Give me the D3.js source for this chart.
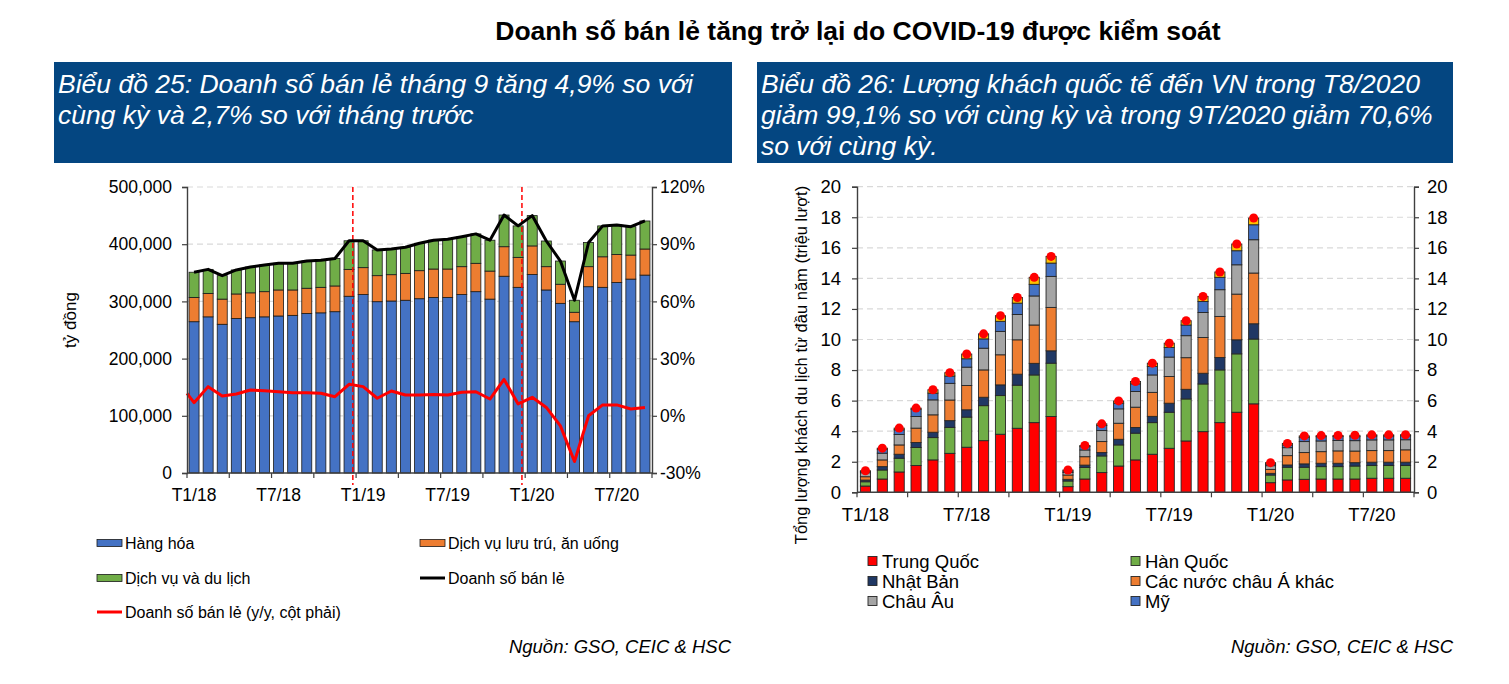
<!DOCTYPE html>
<html><head><meta charset="utf-8">
<script src="https://cdn.jsdelivr.net/npm/d3@7"></script>
<style>
body{margin:0;background:#fff}
svg{display:block}
text{font-family:"Liberation Sans",Arial,Helvetica,sans-serif}
</style>
</head><body>
<svg id="c" width="1509" height="684"></svg>
<script>
// ---------- Chart 25 data (tỷ đồng) ----------
const months = ["T1/18","T2/18","T3/18","T4/18","T5/18","T6/18","T7/18","T8/18","T9/18","T10/18","T11/18","T12/18",
  "T1/19","T2/19","T3/19","T4/19","T5/19","T6/19","T7/19","T8/19","T9/19","T10/19","T11/19","T12/19",
  "T1/20","T2/20","T3/20","T4/20","T5/20","T6/20","T7/20","T8/20","T9/20"];
const hangHoa = [264500,273000,260000,270000,271500,273000,274500,275600,279000,280000,282000,309000,
  312000,299500,300700,302000,304700,307000,307000,312000,317000,304000,344000,324600,
  347000,320000,296600,264500,325700,324600,333000,339000,346000];
const luuTru = [42500,41000,44000,43000,43500,44000,45500,44400,44000,44600,45000,47000,
  47000,45500,46000,47000,49000,49600,49600,48700,49600,49000,51600,52400,
  50000,40700,33400,16500,35000,53400,49000,42000,45600];
const duLich = [44000,42000,41000,42000,45000,46600,46600,46600,47600,47400,48000,50000,
  47000,45000,44900,45600,47900,50400,51900,52300,51400,54000,55400,55000,
  53000,44900,40600,21000,42300,54000,51600,49600,49000];
const yoyPrev = 11.8;
const yoy = [6.9,15.3,10.4,11.4,13.5,13.2,12.6,12.1,12.1,11.8,10.0,16.5,
  15.3,9.2,13.0,10.9,10.9,11.2,10.9,12.3,12.6,8.8,19.1,6.2,
  9.7,4.4,-5.3,-24,0,5.7,5.7,3.6,4.4];
const yTicksL = [0,100000,200000,300000,400000,500000];
const yTicksR = [-30,0,30,60,90,120];
const xLabelsShown = ["T1/18","T7/18","T1/19","T7/19","T1/20","T7/20"];
const dashedAt = ["T12/18","T12/19"];
const legend1 = [
  {name:"Hàng hóa", type:"rect", color:"#4472C4"},
  {name:"Dịch vụ lưu trú, ăn uống", type:"rect", color:"#ED7D31"},
  {name:"Dịch vụ và du lịch", type:"rect", color:"#70AD47"},
  {name:"Doanh số bán lẻ", type:"line", color:"#000000"},
  {name:"Doanh số bán lẻ (y/y, cột phải)", type:"line", color:"#FF0000"}
];

// ---------- Chart 26 data (triệu lượt, luỹ kế) ----------
const trungQuoc = [0.41,0.87,1.33,1.75,2.12,2.55,2.95,3.38,3.80,4.19,4.56,4.96,
  0.37,0.87,1.29,1.72,2.12,2.49,2.88,3.36,3.97,4.56,5.24,5.79,
  0.63,0.81,0.85,0.87,0.87,0.87,0.92,0.92,0.92];
const hanQuoc = [0.28,0.59,0.90,1.18,1.46,1.70,1.97,2.29,2.53,2.82,3.12,3.49,
  0.37,0.76,1.09,1.38,1.75,2.07,2.36,2.75,3.12,3.45,3.82,4.24,
  0.50,0.83,0.79,0.81,0.81,0.85,0.83,0.83,0.83];
const nhatBan = [0.11,0.22,0.26,0.33,0.35,0.44,0.48,0.55,0.70,0.72,0.76,0.81,
  0.11,0.15,0.22,0.37,0.37,0.41,0.59,0.63,0.70,0.81,0.92,1.00,
  0.11,0.15,0.22,0.22,0.22,0.22,0.22,0.22,0.22];
const chauAKhac = [0.22,0.44,0.61,0.94,1.14,1.35,1.59,1.79,1.97,2.25,2.51,2.84,
  0.28,0.55,0.72,1.05,1.33,1.57,1.75,2.07,2.34,2.69,2.99,3.32,
  0.26,0.61,0.74,0.76,0.81,0.76,0.76,0.76,0.81];
const chauAu = [0.26,0.44,0.68,0.76,0.98,1.09,1.20,1.42,1.53,1.66,1.90,2.03,
  0.17,0.44,0.72,0.94,1.03,1.14,1.27,1.44,1.64,1.75,1.92,2.18,
  0.24,0.52,0.72,0.70,0.68,0.68,0.70,0.70,0.66];
const my = [0.09,0.26,0.31,0.48,0.44,0.48,0.55,0.61,0.66,0.74,0.76,0.87,
  0.09,0.22,0.33,0.37,0.50,0.55,0.63,0.70,0.72,0.81,0.92,0.98,
  0.11,0.17,0.28,0.28,0.26,0.26,0.26,0.26,0.26];
const khac = [0.04,0.07,0.11,0.07,0.22,0.22,0.31,0.33,0.37,0.37,0.46,0.44,
  0.07,0.07,0.11,0.15,0.15,0.22,0.28,0.28,0.33,0.35,0.44,0.44,
  0.09,0.11,0.09,0.07,0.07,0.09,0.07,0.07,0.07];
const yTicks2 = [0,2,4,6,8,10,12,14,16,18,20];
const legend2 = [
  {name:"Trung Quốc", color:"#FF0000"},
  {name:"Hàn Quốc", color:"#70AD47"},
  {name:"Nhật Bản", color:"#203864"},
  {name:"Các nước châu Á khác", color:"#ED7D31"},
  {name:"Châu Âu", color:"#A5A5A5"},
  {name:"Mỹ", color:"#4472C4"}
];
const khacColor = "#FFC000";

// ---------- Page texts ----------
const mainTitle = "Doanh số bán lẻ tăng trở lại do COVID-19 được kiểm soát";
const head1 = ["Biểu đồ 25: Doanh số bán lẻ tháng 9 tăng 4,9% so với","cùng kỳ và 2,7% so với tháng trước"];
const head2 = ["Biểu đồ 26: Lượng khách quốc tế đến VN trong T8/2020","giảm 99,1% so với cùng kỳ và trong 9T/2020 giảm 70,6%","so với cùng kỳ."];
const source = "Nguồn: GSO, CEIC & HSC";

const svg = d3.select("#c");
svg.append("rect").attr("width",1509).attr("height",684).attr("fill","#fff");

svg.append("text").attr("x",858).attr("y",40).attr("text-anchor","middle")
  .attr("font-weight","bold").attr("font-size",26.5).text(mainTitle);

function header(x, w, lines){
  svg.append("rect").attr("x",x).attr("y",62).attr("width",w).attr("height",101).attr("fill","#044681");
  svg.append("g").selectAll("text").data(lines).join("text")
    .attr("x",x+4).attr("y",(d,i)=>93+i*31).attr("fill","#fff").attr("font-style","italic")
    .attr("font-size",26.5).text(d=>d);
}
header(54,678,head1);
header(757,696,head2);

svg.append("text").attr("x",731).attr("y",653).attr("text-anchor","end").attr("font-style","italic").attr("font-size",18.5).text(source);
svg.append("text").attr("x",1453).attr("y",653).attr("text-anchor","end").attr("font-style","italic").attr("font-size",18.5).text(source);

const axisColor = "#404040";
function styleAxis(g, fs){
  g.select(".domain").attr("stroke",axisColor).attr("stroke-width",1.4);
  g.selectAll(".tick line").attr("stroke",axisColor).attr("stroke-width",1.2);
  g.selectAll(".tick text").attr("font-size",fs).attr("fill","#000").attr("font-family",'"Liberation Sans",Arial,sans-serif');
}

// ================= Chart 25 =================
(function(){
  const L=187, R=652, T=187, B=473;
  const x = d3.scaleBand().domain(months).range([L,R]).paddingInner(0.29).paddingOuter(0.145);
  const yL = d3.scaleLinear().domain([0,500000]).range([B,T]);
  const yR = d3.scaleLinear().domain([-30,120]).range([B,T]);
  const g = svg.append("g");
  g.selectAll(".gl").data(yTicksL.filter(d=>d>0)).join("line")
    .attr("x1",L).attr("x2",R).attr("y1",d=>yL(d)).attr("y2",d=>yL(d))
    .attr("stroke","#d9d9d9").attr("stroke-width",1.2).attr("stroke-dasharray","6,4");
  const rows = months.map((m,i)=>({m, hangHoa:hangHoa[i], luuTru:luuTru[i], duLich:duLich[i]}));
  const keys = ["hangHoa","luuTru","duLich"];
  const colors = {hangHoa:"#4472C4", luuTru:"#ED7D31", duLich:"#70AD47"};
  const stack = d3.stack().keys(keys)(rows);
  g.selectAll(".s").data(stack).join("g").attr("fill",d=>colors[d.key])
    .selectAll("rect").data(d=>d).join("rect")
    .attr("x",d=>x(d.data.m)).attr("width",x.bandwidth())
    .attr("y",d=>yL(d[1])).attr("height",d=>yL(d[0])-yL(d[1]))
    .attr("stroke","#1a1a1a").attr("stroke-width",0.8);
  g.selectAll(".dl").data(dashedAt).join("line")
    .attr("x1",d=>x(d)+x.bandwidth()*0.88).attr("x2",d=>x(d)+x.bandwidth()*0.88)
    .attr("y1",T).attr("y2",B+12).attr("stroke","#FF0000").attr("stroke-width",1.5).attr("stroke-dasharray","5,3");
  const cx = m=>x(m)+x.bandwidth()/2;
  const totals = rows.map(r=>r.hangHoa+r.luuTru+r.duLich);
  g.append("path").datum(months)
    .attr("d", d3.line().x(m=>cx(m)).y((m,i)=>yL(totals[i])))
    .attr("fill","none").attr("stroke","#000").attr("stroke-width",3).attr("stroke-linejoin","round");
  const yoyPts = [[L, yR(yoyPrev)]].concat(months.map((m,i)=>[cx(m), yR(yoy[i])]));
  g.append("path").datum(yoyPts).attr("d", d3.line())
    .attr("fill","none").attr("stroke","#FF0000").attr("stroke-width",3).attr("stroke-linejoin","round");
  const al = g.append("g").attr("transform",`translate(${L},0)`)
    .call(d3.axisLeft(yL).tickValues(yTicksL).tickFormat(d3.format(",")).tickSize(5).tickPadding(10));
  styleAxis(al,17.5);
  const ar = g.append("g").attr("transform",`translate(${R},0)`)
    .call(d3.axisRight(yR).tickValues(yTicksR).tickFormat(d=>d+"%").tickSize(5).tickPadding(3));
  styleAxis(ar,17.5);
  g.append("line").attr("x1",L).attr("x2",R).attr("y1",B).attr("y2",B).attr("stroke",axisColor).attr("stroke-width",1.4);
  const bnd = months.filter((m,i)=>i%3===0).map(m=>x(m)-x.step()*x.paddingInner()/2).concat([R]);
  g.selectAll(".xt").data(bnd).join("line").attr("x1",d=>d).attr("x2",d=>d).attr("y1",B).attr("y2",B+5)
    .attr("stroke",axisColor).attr("stroke-width",1.2);
  g.selectAll(".xl").data(xLabelsShown).join("text").attr("x",d=>cx(d)).attr("y",501)
    .attr("text-anchor","middle").attr("font-size",17.5).text(d=>d);
  g.append("text").attr("transform","translate(76,320) rotate(-90)").attr("text-anchor","middle")
    .attr("font-size",17).text("tỷ đồng");
  const pos = [[97,543],[420,543],[97,578],[420,578],[97,612]];
  const lg = g.selectAll(".lg").data(legend1).join("g").attr("transform",(d,i)=>`translate(${pos[i][0]},${pos[i][1]})`);
  lg.filter(d=>d.type==="rect").append("rect").attr("x",0).attr("y",-3.5).attr("width",25).attr("height",7)
    .attr("fill",d=>d.color).attr("stroke","#1a1a1a").attr("stroke-width",0.8);
  lg.filter(d=>d.type==="line").append("line").attr("x1",0).attr("x2",25).attr("y1",0).attr("y2",0)
    .attr("stroke",d=>d.color).attr("stroke-width",3);
  lg.append("text").attr("x",28).attr("y",5.5).attr("font-size",16).text(d=>d.name);
})();

// ================= Chart 26 =================
(function(){
  const L=857, R=1414, T=186.7, B=492.3;
  const x = d3.scaleBand().domain(months).range([L,R]).paddingInner(0.4).paddingOuter(0.2);
  const y = d3.scaleLinear().domain([0,20]).range([B,T]);
  const g = svg.append("g");
  g.selectAll(".gl").data(yTicks2.filter(d=>d>0)).join("line")
    .attr("x1",L).attr("x2",R).attr("y1",d=>y(d)).attr("y2",d=>y(d))
    .attr("stroke","#d9d9d9").attr("stroke-width",1.2).attr("stroke-dasharray","6,4");
  const rows = months.map((m,i)=>({m, trungQuoc:trungQuoc[i], hanQuoc:hanQuoc[i], nhatBan:nhatBan[i],
    chauAKhac:chauAKhac[i], chauAu:chauAu[i], my:my[i], khac:khac[i]}));
  const keys = ["trungQuoc","hanQuoc","nhatBan","chauAKhac","chauAu","my","khac"];
  const colors = {};
  keys.slice(0,6).forEach((k,i)=>colors[k]=legend2[i].color);
  colors.khac = khacColor;
  const stack = d3.stack().keys(keys)(rows);
  g.selectAll(".s").data(stack).join("g").attr("fill",d=>colors[d.key])
    .selectAll("rect").data(d=>d).join("rect")
    .attr("x",d=>x(d.data.m)).attr("width",x.bandwidth())
    .attr("y",d=>y(d[1])).attr("height",d=>y(d[0])-y(d[1]))
    .attr("stroke","#262626").attr("stroke-width",0.9);
  const cx = m=>x(m)+x.bandwidth()/2;
  g.selectAll(".dot").data(rows).join("circle")
    .attr("cx",d=>cx(d.m)).attr("cy",d=>y(keys.reduce((s,k)=>s+d[k],0))).attr("r",4.5).attr("fill","#FF0000");
  const al = g.append("g").attr("transform",`translate(${L},0)`)
    .call(d3.axisLeft(y).tickValues(yTicks2).tickSize(5).tickPadding(11));
  styleAxis(al,18.5);
  const ar = g.append("g").attr("transform",`translate(${R},0)`)
    .call(d3.axisRight(y).tickValues(yTicks2).tickSize(5).tickPadding(8));
  styleAxis(ar,18.5);
  g.append("line").attr("x1",L).attr("x2",R).attr("y1",B).attr("y2",B).attr("stroke",axisColor).attr("stroke-width",1.4);
  const bnd = months.filter((m,i)=>i%3===0).map(m=>x(m)-x.step()*x.paddingInner()/2).concat([R]);
  g.selectAll(".xt").data(bnd).join("line").attr("x1",d=>d).attr("x2",d=>d).attr("y1",B).attr("y2",B+5)
    .attr("stroke",axisColor).attr("stroke-width",1.2);
  g.selectAll(".xl").data(xLabelsShown).join("text").attr("x",d=>cx(d)).attr("y",521)
    .attr("text-anchor","middle").attr("font-size",18.5).text(d=>d);
  g.append("text").attr("transform","translate(807,365) rotate(-90)").attr("text-anchor","middle")
    .attr("font-size",16.5).text("Tổng lượng khách du lịch từ đầu năm (triệu lượt)");
  const pos = [[868,561],[1131,561],[868,581],[1131,581],[868,601],[1131,601]];
  const lg = g.selectAll(".lg").data(legend2).join("g").attr("transform",(d,i)=>`translate(${pos[i][0]},${pos[i][1]})`);
  lg.append("rect").attr("x",0).attr("y",-4.5).attr("width",9).attr("height",9)
    .attr("fill",d=>d.color).attr("stroke","#262626").attr("stroke-width",0.9);
  lg.append("text").attr("x",14).attr("y",6.5).attr("font-size",18.5).text(d=>d.name);
})();
</script>
</body></html>
